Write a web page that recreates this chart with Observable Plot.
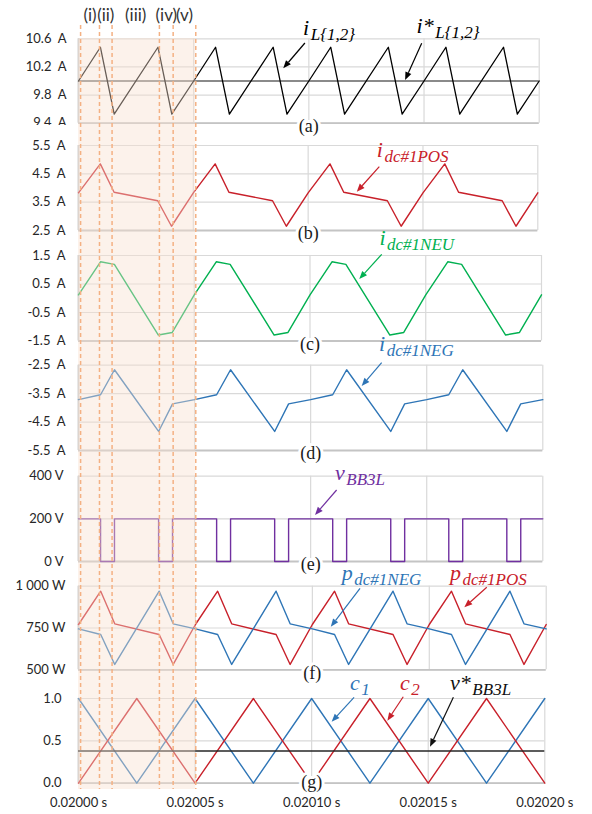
<!DOCTYPE html>
<html><head><meta charset="utf-8">
<script src="https://cdn.jsdelivr.net/npm/d3@7"></script>
<script src="https://cdn.jsdelivr.net/npm/@observablehq/plot@0.6"></script>
<style>
html,body{margin:0;padding:0;background:#fff;}
#wrap{position:relative;width:592px;height:814px;overflow:hidden;background:#fff;}
#wrap svg{position:absolute;left:0;top:0;}
#mask{position:absolute;left:0;top:125px;width:76px;height:12px;background:#fff;}
</style></head><body><div id="wrap"></div>
<script>
// ---------- data ----------
const tSeg = [
  0.0200000, 0.0200095, 0.0200155, 0.0200345, 0.0200405,
  0.0200500, 0.0200595, 0.0200655, 0.0200845, 0.0200905,
  0.0201000, 0.0201095, 0.0201155, 0.0201345, 0.0201405,
  0.0201500, 0.0201595, 0.0201655, 0.0201845, 0.0201905,
  0.0202000];
const iL = [10.00,10.48,9.53,10.48,9.53, 10.00,10.48,9.53,10.48,9.53, 10.00,10.48,9.53,10.48,9.53, 10.00,10.48,9.53,10.48,9.53, 10.00];
const iLref = [10.0];
const iPOS = [3.83,4.85,3.85,3.55,2.65, 3.83,4.85,3.85,3.55,2.65, 3.83,4.85,3.85,3.55,2.65, 3.83,4.85,3.85,3.55,2.65, 3.83];
const iNEU = [0.12,1.28,1.19,-1.29,-1.20, 0.12,1.28,1.19,-1.29,-1.20, 0.12,1.28,1.19,-1.29,-1.20, 0.12,1.28,1.19,-1.29,-1.20, 0.12];
const iNEG = [-3.71,-3.54,-2.66,-4.83,-3.86, -3.71,-3.54,-2.66,-4.83,-3.86, -3.71,-3.54,-2.66,-4.83,-3.86, -3.71,-3.54,-2.66,-4.83,-3.86, -3.71];
const vBB = [200,0,200,0,200, 200,0,200,0,200, 200,0,200,0,200, 200,0,200,0,200, 200];
const pPOS = [771,970,775,711,532, 771,970,775,711,532, 771,970,775,711,532, 771,970,775,711,532, 771];
const pNEG = [745,711,532,970,775, 745,711,532,970,775, 745,711,532,970,775, 745,711,532,970,775, 745];
const tCar = [0.020000,0.020025,0.020050,0.020075,0.020100,0.020125,0.020150,0.020175,0.020200];
const c1 = [1,0,1,0,1,0,1,0,1];
const c2 = [0,1,0,1,0,1,0,1,0];
const vRef = [0.38];
const xTicks = [0.02000, 0.02005, 0.02010, 0.02015, 0.02020];
const intervalNames = ["(i)","(ii)","(iii)","(iv)","(v)"];
const bounds = [0.0200009, 0.0200090, 0.0200144, 0.0200347, 0.0200406, 0.0200503];

// ---------- colours ----------
const RED = "#c8202a", BLUE = "#2e75b6", GREEN = "#00b050", PURPLE = "#7030a0";

const W = 592, H = 814;
const wrap = document.getElementById("wrap");
const baseStyle = {fontFamily: "Lato, 'Open Sans', sans-serif", fontSize: "13px", color: "#262626", background: "transparent", overflow: "visible"};

function annotate(list) {
  return (...args) => {
    const scales = args.find(a => a && typeof a.x === "function");
    const ctx = args[4];
    const doc = (ctx && ctx.document) || document;
    const ns = "http://www.w3.org/2000/svg";
    const g = doc.createElementNS(ns, "g");
    for (const a of list) {
      const x1 = scales.x(a.ax1), y1 = scales.y(a.ay1), x2 = scales.x(a.ax2), y2 = scales.y(a.ay2);
      const ang = Math.atan2(y2 - y1, x2 - x1), L = 8, Wd = 3.2;
      const bx = x2 - L * Math.cos(ang), by = y2 - L * Math.sin(ang);
      const ln = doc.createElementNS(ns, "line");
      ln.setAttribute("x1", x1); ln.setAttribute("y1", y1);
      ln.setAttribute("x2", bx); ln.setAttribute("y2", by);
      ln.setAttribute("stroke", a.color); ln.setAttribute("stroke-width", 1.2);
      g.appendChild(ln);
      const pg = doc.createElementNS(ns, "polygon");
      pg.setAttribute("points", `${x2},${y2} ${bx + Wd*Math.sin(ang)},${by - Wd*Math.cos(ang)} ${bx - Wd*Math.sin(ang)},${by + Wd*Math.cos(ang)}`);
      pg.setAttribute("fill", a.color);
      g.appendChild(pg);
      const tx = doc.createElementNS(ns, "text");
      tx.setAttribute("x", scales.x(a.x)); tx.setAttribute("y", scales.y(a.y));
      tx.setAttribute("text-anchor", "start");
      tx.setAttribute("font-family", "'Liberation Serif', 'Times New Roman', serif");
      tx.setAttribute("font-style", "italic");
      tx.setAttribute("fill", a.color);
      const m = doc.createElementNS(ns, "tspan");
      m.setAttribute("font-size", 22); m.textContent = a.text;
      const s = doc.createElementNS(ns, "tspan");
      s.setAttribute("font-size", 17); s.setAttribute("dx", 1.5); s.setAttribute("dy", 5);
      s.textContent = a.sub;
      tx.appendChild(m); tx.appendChild(s);
      g.appendChild(tx);
    }
    return g;
  };
}

function panel(p, marks) {
  return Plot.plot({
    width: W, height: H,
    marginLeft: 78, marginRight: W - p.right, marginTop: p.top, marginBottom: H - p.bottom,
    x: {domain: [0.02, 0.0202], axis: p.xaxis ? "bottom" : null, ticks: xTicks,
        tickFormat: d => d.toFixed(5) + " s", tickSize: 0, tickPadding: 15, label: null},
    y: {domain: p.domain, ticks: p.ticks, tickFormat: p.fmt, tickSize: 0, tickPadding: p.pad, label: null},
    style: baseStyle,
    marks: [
      Plot.ruleY(p.ticks, {stroke: "#d9d9d9", strokeWidth: 1.2}),
      Plot.ruleX(xTicks, {stroke: "#d9d9d9", strokeWidth: 1.2}),
      Plot.ruleX([xTicks[0]], {stroke: "#cbcbcb", strokeWidth: 1.8}),
      Plot.ruleY([p.domain[0]], {stroke: "#c4c4c4", strokeWidth: 1.8}),
      ...marks,
      Plot.text([p.label], {frameAnchor: "bottom", dy: p.labelDy ?? 3, lineAnchor: "middle", fontSize: 18,
        fontFamily: "'Liberation Serif', 'Times New Roman', serif", fill: "#1a1a1a", stroke: "white", strokeWidth: 6}),
      annotate(p.ann)
    ]
  });
}

const figs = [];
figs.push(panel({label: "(a)", top: 38.3, bottom: 122.7, right: 538.7, domain: [9.4, 10.6], ticks: [9.4, 9.8, 10.2, 10.6],
  fmt: v => v.toFixed(1) + "  A", pad: 12,
  ann: [
    {text: "i", sub: "L{1,2}", x: 0.0200977, y: 10.647, color: "#000", ax1: 0.0200985, ay1: 10.533, ax2: 0.0200891, ay2: 10.173},
    {text: "i*", sub: "L{1,2}", x: 0.0201470, y: 10.671, color: "#000", ax1: 0.0201492, ay1: 10.529, ax2: 0.0201420, ay2: 10.007}
  ]}, [
  Plot.ruleY(iLref, {stroke: "#8a8a8a", strokeWidth: 2}),
  Plot.line(iL, {x: tSeg, y: iL, stroke: "#000", strokeWidth: 1.3})
]));
figs.push("mask");
figs.push(panel({label: "(b)", top: 145, bottom: 230, right: 537.3, domain: [2.5, 5.5], ticks: [2.5, 3.5, 4.5, 5.5],
  fmt: v => v.toFixed(1) + "  A", pad: 13,
  ann: [{text: "i", sub: "dc#1POS", x: 0.0201301, y: 5.087, color: RED, ax1: 0.0201312, ay1: 4.734, ax2: 0.0201214, ay2: 3.852}]}, [
  Plot.line(iPOS, {x: tSeg, y: iPOS, stroke: RED, strokeWidth: 1.4})
]));
figs.push(panel({label: "(c)", top: 255, bottom: 340.5, right: 541, domain: [-1.5, 1.5], ticks: [-1.5, -0.5, 0.5, 1.5],
  fmt: v => v.toFixed(1) + "  A", pad: 13,
  ann: [{text: "i", sub: "dc#1NEU", x: 0.0201302, y: 1.851, color: GREEN, ax1: 0.0201312, ay1: 1.525, ax2: 0.0201215, ay2: 0.658}]}, [
  Plot.line(iNEU, {x: tSeg, y: iNEU, stroke: GREEN, strokeWidth: 1.4})
]));
figs.push(panel({label: "(d)", top: 364.7, bottom: 450, right: 542.3, domain: [-5.5, -2.5], ticks: [-5.5, -4.5, -3.5, -2.5],
  fmt: v => v.toFixed(1) + "  A", pad: 13,
  ann: [{text: "i", sub: "dc#1NEG", x: 0.0201297, y: -2.018, color: BLUE, ax1: 0.0201308, ay1: -2.43, ax2: 0.0201222, ay2: -3.249}]}, [
  Plot.line(iNEG, {x: tSeg, y: iNEG, stroke: BLUE, strokeWidth: 1.4})
]));
figs.push(panel({label: "(e)", top: 475.7, bottom: 561, right: 542.3, domain: [0, 400], ticks: [0, 200, 400],
  fmt: v => v + " V", pad: 15,
  ann: [{text: "v", sub: "BB3L", x: 0.0201107, y: 379.8, color: PURPLE, ax1: 0.0201114, ay1: 332.9, ax2: 0.0201021, ay2: 215.7}]}, [
  Plot.line(vBB, {x: tSeg, y: vBB, stroke: PURPLE, strokeWidth: 1.4, curve: "step-after"})
]));
figs.push(panel({label: "(f)", top: 585.7, bottom: 669.3, right: 545.7, domain: [500, 1000], ticks: [500, 750, 1000],
  fmt: v => (v >= 1000 ? "1 000" : String(v)) + " W", pad: 13,
  ann: [
    {text: "p", sub: "dc#1NEG", x: 0.0201128, y: 1034, color: BLUE, ax1: 0.0201206, ay1: 984.4, ax2: 0.0201081, ay2: 754.8},
    {text: "p", sub: "dc#1POS", x: 0.0201591, y: 1034, color: RED, ax1: 0.0201748, ay1: 990.4, ax2: 0.0201652, ay2: 870.8}
  ]}, [
  Plot.line(pPOS, {x: tSeg, y: pPOS, stroke: RED, strokeWidth: 1.4}),
  Plot.line(pNEG, {x: tSeg, y: pNEG, stroke: BLUE, strokeWidth: 1.4})
]));
figs.push(panel({label: "(g)", top: 698, bottom: 782.7, right: 544.3, domain: [0, 1], ticks: [0, 0.5, 1], xaxis: true,
  fmt: v => v.toFixed(1), pad: 17, labelDy: -1,
  ann: [
    {text: "c", sub: "1", x: 0.0201167, y: 1.094, color: BLUE, ax1: 0.0201184, ay1: 1.008, ax2: 0.0201088, ay2: 0.720},
    {text: "c", sub: "2", x: 0.0201381, y: 1.094, color: RED, ax1: 0.0201395, ay1: 1.015, ax2: 0.0201327, ay2: 0.732},
    {text: "v*", sub: "BB3L", x: 0.0201596, y: 1.094, color: "#111", ax1: 0.0201610, ay1: 1.008, ax2: 0.0201510, ay2: 0.425}
  ]}, [
  Plot.line(c1, {x: tCar, y: c1, stroke: BLUE, strokeWidth: 1.4}),
  Plot.line(c2, {x: tCar, y: c2, stroke: RED, strokeWidth: 1.4}),
  Plot.ruleY(vRef, {stroke: "#262626", strokeWidth: 1.6})
]));

// overlay: shaded interval and dashed boundaries
const mids = intervalNames.map((_, i) => (bounds[i] + bounds[i + 1]) / 2);
figs.push(Plot.plot({
  width: W, height: H, marginLeft: 78, marginRight: W - 544.3, marginTop: 0, marginBottom: 0,
  x: {domain: [0.02, 0.0202], axis: null},
  y: {domain: [0, H], range: [0, H], axis: null},
  style: baseStyle,
  marks: [
    Plot.rect([0], {x1: xTicks[0], x2: bounds[bounds.length - 1], y1: 38, y2: 789, fill: "#f8e1cf", fillOpacity: 0.42}),
    Plot.ruleX(bounds, {y1: 25, y2: 789, stroke: "#f4b183", strokeWidth: 1.5, strokeDasharray: "4,3"}),
    Plot.text(intervalNames, {x: mids, y: 15, text: d => d, fontSize: 17, fill: "#333"})
  ]
}));

for (const f of figs) {
  if (f === "mask") { const d = document.createElement("div"); d.id = "mask"; wrap.appendChild(d); }
  else wrap.appendChild(f);
}
</script></body></html>
